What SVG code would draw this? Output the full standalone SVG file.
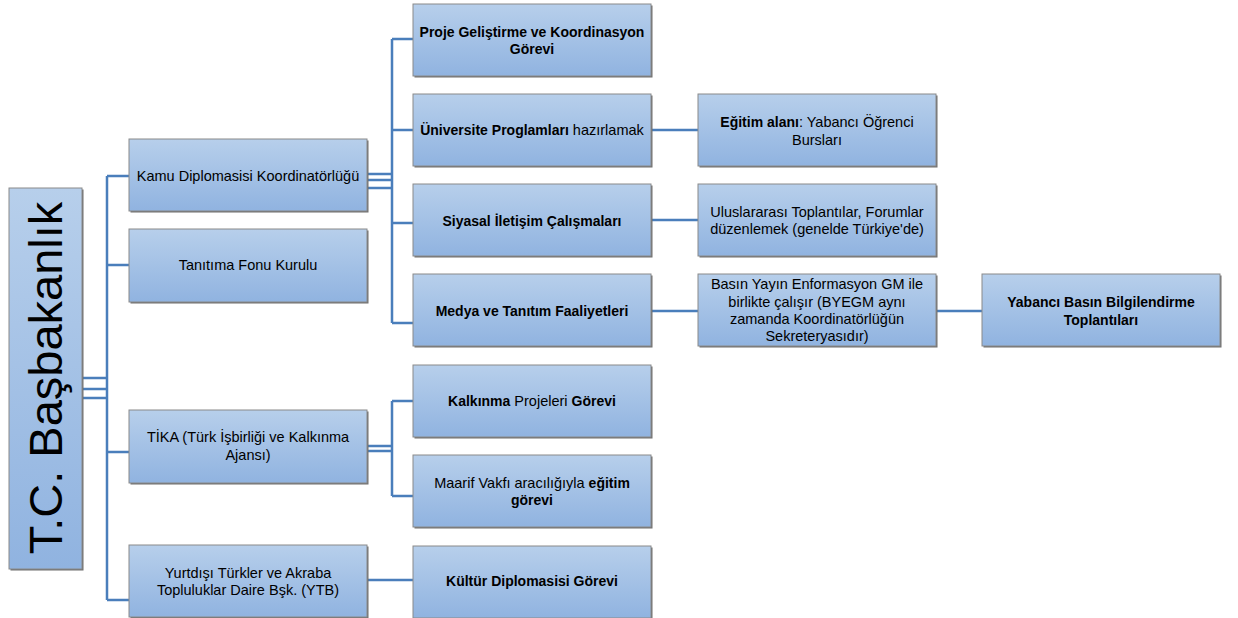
<svg xmlns="http://www.w3.org/2000/svg" width="1238" height="618" viewBox="0 0 1238 618">
<defs>
<linearGradient id="g" x1="0" y1="0" x2="0" y2="1">
<stop offset="0" stop-color="#b7cfeb"/>
<stop offset="1" stop-color="#90b3e0"/>
</linearGradient>
</defs>
<style>
.box{fill:url(#g);stroke:#8a8a8a;stroke-width:1}
.sh{fill:#6e6e6e}
.t{font-family:"Liberation Sans",Arial,sans-serif;font-size:14.5px;fill:#000;text-anchor:middle}
.b{font-weight:bold;font-size:14px}
.c{fill:none;stroke:#4a7ebb;stroke-width:2.5}
</style>
<rect width="1238" height="618" fill="#fff"/>
<g id="connectors">
<path class="c" d="M82 378H107M82 389H107M82 398H107M107 176V600M107 176H129M107 265H129M107 452H129M107 600H129"/>
<path class="c" d="M367 174H392M367 180H392M367 188H392M392 39V323M392 39H413M392 130H413M392 223H413M392 323H413"/>
<path class="c" d="M367 446H392M367 451H392M392 401V496M392 401H413M392 496H413"/>
<path class="c" d="M651 130H698M651 220H698M651 311H698M936 311H982M367 580H413"/>
</g>
<g id="root">
<rect class="sh" x="10.5" y="189.5" width="73" height="381"/>
<rect class="box" x="9" y="188" width="73" height="381"/>
<text class="t" transform="translate(62,378) rotate(-90)" style="font-size:47px">T.C. Başbakanlık</text>
</g>
<g id="kamu">
<rect class="sh" x="130.5" y="140.5" width="238" height="72"/>
<rect class="box" x="129" y="139" width="238" height="72"/>
<text class="t" x="248" y="181">Kamu Diplomasisi Koordinatörlüğü</text>
</g>
<g id="tanitima">
<rect class="sh" x="130.5" y="230.5" width="238" height="73"/>
<rect class="box" x="129" y="229" width="238" height="73"/>
<text class="t" x="248" y="270">Tanıtıma Fonu Kurulu</text>
</g>
<g id="tika">
<rect class="sh" x="130.5" y="411.5" width="238" height="73"/>
<rect class="box" x="129" y="410" width="238" height="73"/>
<text class="t" x="248" y="442">TİKA (Türk İşbirliği ve Kalkınma</text>
<text class="t" x="248" y="460">Ajansı)</text>
</g>
<g id="ytb">
<rect class="sh" x="130.5" y="546.5" width="238" height="72"/>
<rect class="box" x="129" y="545" width="238" height="72"/>
<text class="t" x="248" y="578">Yurtdışı Türkler ve Akraba</text>
<text class="t" x="248" y="595">Topluluklar Daire Bşk. (YTB)</text>
</g>
<g id="proje">
<rect class="sh" x="414.5" y="5.5" width="238" height="72"/>
<rect class="box" x="413" y="4" width="238" height="72"/>
<text class="t b" x="532" y="37">Proje Geliştirme ve Koordinasyon</text>
<text class="t b" x="532" y="54">Görevi</text>
</g>
<g id="universite">
<rect class="sh" x="414.5" y="95.5" width="238" height="72"/>
<rect class="box" x="413" y="94" width="238" height="72"/>
<text class="t" x="532" y="135"><tspan class="b">Üniversite Proglamları</tspan> hazırlamak</text>
</g>
<g id="siyasal">
<rect class="sh" x="414.5" y="185.5" width="238" height="72"/>
<rect class="box" x="413" y="184" width="238" height="72"/>
<text class="t b" x="532" y="226">Siyasal İletişim Çalışmaları</text>
</g>
<g id="medya">
<rect class="sh" x="414.5" y="275.5" width="238" height="72"/>
<rect class="box" x="413" y="274" width="238" height="72"/>
<text class="t b" x="532" y="316">Medya ve Tanıtım Faaliyetleri</text>
</g>
<g id="kalkinma">
<rect class="sh" x="414.5" y="366.5" width="238" height="72"/>
<rect class="box" x="413" y="365" width="238" height="72"/>
<text class="t" x="532" y="406"><tspan class="b">Kalkınma</tspan> Projeleri <tspan class="b">Görevi</tspan></text>
</g>
<g id="maarif">
<rect class="sh" x="414.5" y="456.5" width="238" height="72"/>
<rect class="box" x="413" y="455" width="238" height="72"/>
<text class="t" x="532" y="488">Maarif Vakfı aracılığıyla <tspan class="b">eğitim</tspan></text>
<text class="t b" x="532" y="505">görevi</text>
</g>
<g id="kultur">
<rect class="sh" x="414.5" y="547.5" width="238" height="72"/>
<rect class="box" x="413" y="546" width="238" height="72"/>
<text class="t b" x="532" y="586">Kültür Diplomasisi Görevi</text>
</g>
<g id="egitim">
<rect class="sh" x="699.5" y="95.5" width="238" height="72"/>
<rect class="box" x="698" y="94" width="238" height="72"/>
<text class="t" x="817" y="127"><tspan class="b">Eğitim alanı</tspan>: Yabancı Öğrenci</text>
<text class="t" x="817" y="145">Bursları</text>
</g>
<g id="uluslararasi">
<rect class="sh" x="699.5" y="185.5" width="238" height="72"/>
<rect class="box" x="698" y="184" width="238" height="72"/>
<text class="t" x="817" y="217">Uluslararası Toplantılar, Forumlar</text>
<text class="t" x="817" y="234">düzenlemek (genelde Türkiye'de)</text>
</g>
<g id="basin">
<rect class="sh" x="699.5" y="275.5" width="238" height="72"/>
<rect class="box" x="698" y="274" width="238" height="72"/>
<text class="t" x="817" y="289">Basın Yayın Enformasyon GM ile</text>
<text class="t" x="817" y="307">birlikte çalışır (BYEGM aynı</text>
<text class="t" x="817" y="324">zamanda Koordinatörlüğün</text>
<text class="t" x="817" y="341">Sekreteryasıdır)</text>
</g>
<g id="yabanci">
<rect class="sh" x="983.5" y="275.5" width="238" height="72"/>
<rect class="box" x="982" y="274" width="238" height="72"/>
<text class="t b" x="1101" y="307">Yabancı Basın Bilgilendirme</text>
<text class="t b" x="1101" y="325">Toplantıları</text>
</g>
</svg>
